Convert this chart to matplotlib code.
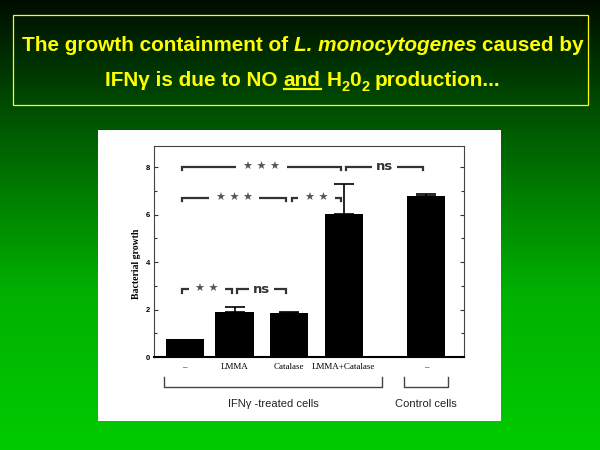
import matplotlib
matplotlib.use('Agg')
import matplotlib.pyplot as plt
from matplotlib import font_manager
from matplotlib.patches import Rectangle
from matplotlib.lines import Line2D
import numpy as np

# ---------------- data ----------------
groups = ['–', 'LMMA', 'Catalase', 'LMMA+Catalase', '–']
growth = [0.76, 1.88, 1.85, 6.03, 6.80]
growth_err = [0.0, 0.22, 0.03, 1.26, 0.07]
yticks = [0, 2, 4, 6, 8]
yminor = [1, 3, 5, 7]

# significance brackets (left bar, right bar, height, label)
sig_left = [0, 3, 0, 2, 0, 1]
sig_right = [3, 4, 2, 3, 1, 2]
sig_y = [8.03, 8.03, 6.72, 6.72, 2.85, 2.85]
sig_text = ['★ ★ ★', 'ns', '★ ★ ★', '★ ★', '★ ★', 'ns']

group_names = ['IFNγ -treated cells', 'Control cells']
group_first = [0, 4]
group_last = [3, 4]

# ---------------- layout ----------------
W, H = 600, 450
pos = [0, 0.94, 1.97, 3.0, 4.55]

names = {f.name for f in font_manager.fontManager.ttflist}
title_font = 'Liberation Sans Narrow' if 'Liberation Sans Narrow' in names else 'Liberation Sans'

fig = plt.figure(figsize=(6, 4.5), dpi=100)
renderer = fig.canvas.get_renderer()

def fx(x):
    return x / W

def fy(y):
    return 1 - y / H

# background gradient, black on top to green at the bottom
bg = fig.add_axes([0, 0, 1, 1], zorder=-2)
rows = np.arange(H)
g = np.interp(rows, [0, 150, 290, 450], [0.05, 0.40, 0.69, 0.80])
img = np.zeros((H, 1, 3))
img[:, 0, 1] = g
bg.imshow(img, aspect='auto', extent=[0, 1, 0, 1], interpolation='bilinear')
bg.axis('off')

# title box
fig.patches.append(Rectangle((fx(13), fy(105)), fx(575), 90 / H, transform=fig.transFigure,
                             fill=False, edgecolor='#ffff00', linewidth=0.9, zorder=1))

# white panel behind the chart
fig.patches.append(Rectangle((fx(98), fy(421)), fx(403), 291 / H, transform=fig.transFigure,
                             facecolor='white', edgecolor='none', zorder=-1))


def make_line(segs, size, base):
    # segs: (text, italic, underline, sub, space_before)
    texts = []
    for s, it, ul, sub, sp in segs:
        t = fig.text(0, fy(base), s, fontsize=size * 0.7 if sub else size, family=title_font,
                     weight='bold', style='italic' if it else 'normal', color='#ffff00',
                     va='baseline', ha='left')
        texts.append(t)
    probe1 = fig.text(0, 0, 'a a', fontsize=size, family=title_font, weight='bold')
    probe2 = fig.text(0, 0, 'aa', fontsize=size, family=title_font, weight='bold')
    space = probe1.get_window_extent(renderer).width - probe2.get_window_extent(renderer).width
    probe1.remove()
    probe2.remove()
    widths = [t.get_window_extent(renderer).width for t in texts]
    total = sum(widths) + space * sum(1 for s in segs if s[4])
    return texts, widths, space, total


def place_line(segs, size, base, cx=303):
    texts, widths, space, total = make_line(segs, size, base)
    x = cx - total / 2
    for t, w, (s, it, ul, sub, sp) in zip(texts, widths, segs):
        if sp:
            x += space
        t.set_x(fx(x))
        if sub:
            t.set_y(fy(base + 5))
        if ul:
            fig.lines.append(Line2D([fx(x), fx(x + w)], [fy(base + 3), fy(base + 3)],
                                    transform=fig.transFigure, color='#ffff00', lw=1.6))
        x += w
    return total


line1 = [('The growth containment of', False, False, False, False),
         ('L. monocytogenes', True, False, False, True),
         ('caused by', False, False, False, True)]
line2 = [('IFNγ is due to NO', False, False, False, False),
         ('and', False, True, False, True),
         ('H', False, False, False, True),
         ('2', False, False, True, False),
         ('0', False, False, False, False),
         ('2', False, False, True, False),
         ('production...', False, False, False, True)]

# fit title size to the width of the first line
texts, widths, space, total = make_line(line1, 16, 51)
for t in texts:
    t.remove()
tsize = 16 * 561 / total
place_line(line1, tsize, 51)
place_line(line2, tsize, 86)

# ---------------- chart ----------------
ax = fig.add_axes([fx(154), fy(357), fx(310), 211 / H], zorder=0)
ax.set_facecolor('white')
ax.bar(pos, growth, width=0.72, color='black', zorder=3)
for x, v, e in zip(pos, growth, growth_err):
    if e > 0:
        ax.errorbar(x, v, yerr=[[0], [e]], fmt='none', ecolor='black', elinewidth=1.2,
                    capsize=7, capthick=1.2, zorder=3)
ax.set_xlim(-0.58, 5.27)
ax.set_ylim(0, 8.9)

ax.set_yticks(yticks)
ax.set_yticks(yminor, minor=True)
ax.set_yticklabels([str(v) for v in yticks], family='Liberation Sans', weight='bold', fontsize=5.5)
ax.tick_params(axis='y', which='both', direction='in', right=True, length=3, width=0.8,
               pad=3, color='#333333')
ax.tick_params(axis='y', which='minor', length=2)
ax.set_xticks(pos)
ax.set_xticklabels(groups, family='Liberation Serif', fontsize=6.5)
ax.tick_params(axis='x', length=0, pad=4.5)

for side in ['left', 'right', 'top']:
    ax.spines[side].set_color('#444444')
    ax.spines[side].set_linewidth(0.8)
ax.spines['bottom'].set_color('black')
ax.spines['bottom'].set_linewidth(1.5)

ax.text(-0.058, 0.44, 'Bacterial growth', transform=ax.transAxes, rotation=90,
        ha='center', va='center', family='Liberation Serif', weight='bold', fontsize=7)

# significance brackets
for l, r, y, s in zip(sig_left, sig_right, sig_y, sig_text):
    x0 = pos[l] + (0.05 if l > 0 else -0.05)
    x1 = pos[r] - 0.05
    ax.plot([x0, x0, x1, x1], [y - 0.13, y, y, y - 0.13], color='#333333', lw=1.6,
            clip_on=False, zorder=4, solid_joinstyle='miter')
    if s == 'ns':
        ax.text((x0 + x1) / 2, y, s, ha='center', va='center', fontsize=9.5,
                family='DejaVu Sans', weight='bold', color='#333333', zorder=5,
                bbox=dict(boxstyle='square,pad=0.3', fc='white', ec='none'))
    else:
        ax.text((x0 + x1) / 2, y, s, ha='center', va='center', fontsize=8,
                family='DejaVu Sans', color='#555555', zorder=5,
                bbox=dict(boxstyle='square,pad=0.6', fc='white', ec='none'))

# group brackets under the axis
pad_l = [0.40, 0.41]
pad_r = [0.73, 0.42]
for name, a, b, pl, pr in zip(group_names, group_first, group_last, pad_l, pad_r):
    x0 = pos[a] - pl
    x1 = pos[b] + pr
    ax.plot([x0, x0, x1, x1], [-0.83, -1.28, -1.28, -0.83], color='#444444', lw=1.0,
            clip_on=False)
    ax.text((x0 + x1) / 2, -1.98, name, ha='center', va='center', fontsize=8,
            family='Liberation Sans', color='#222222')

fig.savefig('out.png', dpi=100)
